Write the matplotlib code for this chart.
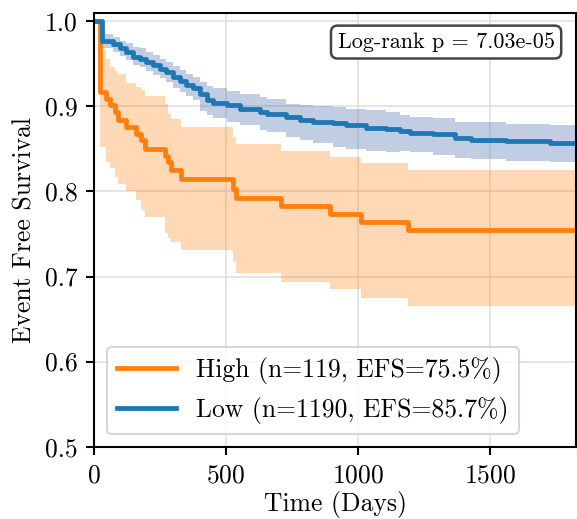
import numpy as np
import matplotlib
matplotlib.use("Agg")
import matplotlib.pyplot as plt

plt.rcParams.update({
    "font.family": ["cmr10", "DejaVu Serif"],
    "mathtext.fontset": "cm",
    "axes.formatter.use_mathtext": True,
    "font.size": 12.3,
})

# ---- Kaplan-Meier estimates (days, survival, 95% CI) ----
follow_up_end = 1825

high_t = [0, 21, 45, 59, 78, 91, 122, 160, 179, 192, 267, 280, 292, 330,
          526, 538, 709, 892, 1010, 1188]
high_s = [1.0, 0.917, 0.909, 0.901, 0.893, 0.884, 0.876, 0.868, 0.860, 0.850,
          0.842, 0.834, 0.825, 0.815, 0.803, 0.792, 0.783, 0.773, 0.764, 0.755]
high_lo = [1.0, 0.852, 0.835, 0.827, 0.817, 0.809, 0.800, 0.790, 0.778, 0.770,
           0.751, 0.745, 0.741, 0.731, 0.717, 0.704, 0.694, 0.685, 0.675, 0.665]
high_hi = [1.0, 0.966, 0.956, 0.946, 0.942, 0.938, 0.927, 0.923, 0.919, 0.912,
           0.903, 0.891, 0.885, 0.876, 0.864, 0.856, 0.848, 0.841, 0.833, 0.825]

low_t = [0, 29, 72, 97, 122, 147, 173, 198, 223, 248, 273, 299, 324, 349, 374,
         401, 426, 451, 502, 552, 627, 653, 728, 779, 828, 903, 955, 1031, 1106,
         1157, 1195, 1283, 1365, 1428, 1560, 1724]
low_s = [1.0, 0.977, 0.9735, 0.968, 0.964, 0.958, 0.956, 0.952, 0.948, 0.944,
         0.940, 0.934, 0.930, 0.925, 0.921, 0.915, 0.908, 0.904, 0.901, 0.897,
         0.893, 0.891, 0.888, 0.884, 0.882, 0.880, 0.878, 0.874, 0.873, 0.871,
         0.869, 0.867, 0.863, 0.861, 0.859, 0.857]
low_lo = [1.0, 0.968, 0.964, 0.959, 0.955, 0.949, 0.946, 0.941, 0.937, 0.933,
          0.928, 0.922, 0.917, 0.912, 0.907, 0.895, 0.890, 0.886, 0.882, 0.878,
          0.872, 0.870, 0.864, 0.860, 0.857, 0.852, 0.850, 0.848, 0.846, 0.848,
          0.846, 0.843, 0.839, 0.838, 0.836, 0.835]
low_hi = [1.0, 0.985, 0.982, 0.977, 0.974, 0.970, 0.968, 0.964, 0.960, 0.956,
          0.952, 0.947, 0.943, 0.938, 0.934, 0.929, 0.924, 0.921, 0.918, 0.915,
          0.911, 0.909, 0.903, 0.901, 0.900, 0.899, 0.897, 0.896, 0.893, 0.890,
          0.888, 0.886, 0.882, 0.881, 0.879, 0.878]

groups = [
    ("High (n=119, EFS=75.5%)", high_t, high_s, high_lo, high_hi, "#ff7f0e", "#ff7f0e", 0.3),
    ("Low (n=1190, EFS=85.7%)", low_t, low_s, low_lo, low_hi, "#1f77b4", "#4c72b0", 0.35),
]
logrank_p = 7.03e-05


def extend(vals, last):
    return np.append(vals, last)


fig = plt.figure(figsize=(577 / 150, 519 / 150), dpi=150)
ax = fig.add_axes([0.1629, 0.1393, 0.8359, 0.8362])

for label, t, s, lo, hi, line_col, band_col, band_alpha in groups:
    tt = extend(t, follow_up_end)
    ax.fill_between(tt, extend(lo, lo[-1]), extend(hi, hi[-1]), step="post",
                    color=band_col, alpha=band_alpha, linewidth=0)
    ax.step(tt, extend(s, s[-1]), where="post", color=line_col, lw=2.3, label=label)

ax.set_xlim(0, follow_up_end)
ax.set_ylim(0.5, 1.01)
ax.set_xticks([0, 500, 1000, 1500])
ax.set_yticks([0.5, 0.6, 0.7, 0.8, 0.9, 1.0])
ax.yaxis.set_major_formatter(plt.FormatStrFormatter("%.1f"))
ax.tick_params(length=4, width=1, pad=4)
ax.grid(color="#d9d9d9", linewidth=0.8, alpha=0.8)
ax.set_axisbelow(True)
for sp in ax.spines.values():
    sp.set_linewidth(1)

ax.set_xlabel("Time (Days)", labelpad=2)
ax.set_ylabel("Event Free Survival")

ax.text(0.955, 0.955, f"Log-rank p = {logrank_p:.2e}", transform=ax.transAxes,
        ha="right", va="top", fontsize=10.6,
        bbox=dict(boxstyle="round,pad=0.3", fc="white", ec="#444444", lw=1.2))

ax.legend(loc="lower left", fontsize=12.3, handlelength=2.3, framealpha=0.8)

fig.savefig("out.png", dpi=150)
